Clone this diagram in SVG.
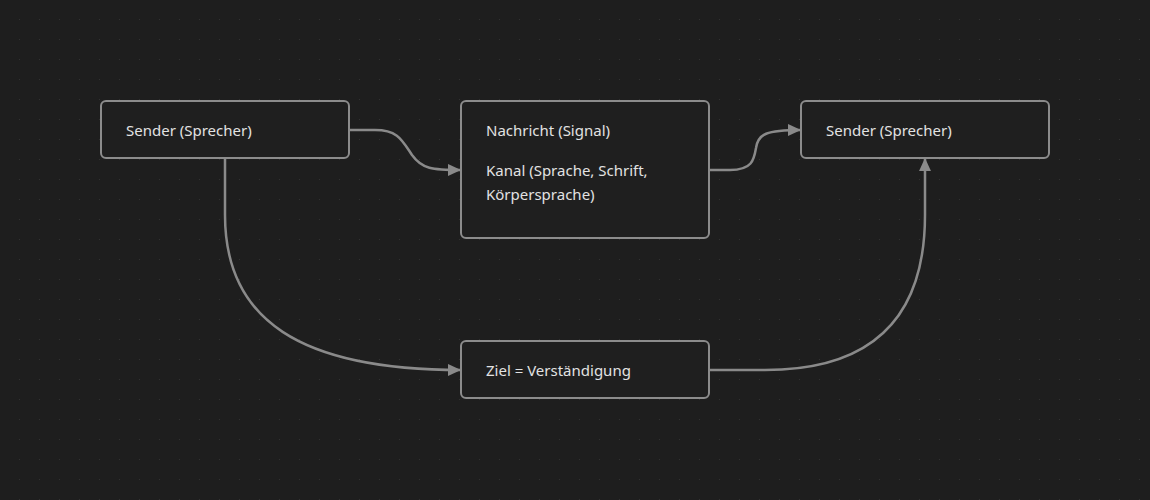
<svg xmlns="http://www.w3.org/2000/svg" width="1150" height="500" viewBox="0 0 1150 500">
<defs>
<pattern id="dots" x="0" y="0" width="20" height="20" patternUnits="userSpaceOnUse">
<rect x="19" y="19" width="1.5" height="1.5" fill="#333333"/>
</pattern>
<marker id="arr" viewBox="0 0 12 12" refX="12" refY="6" markerWidth="13" markerHeight="13" markerUnits="userSpaceOnUse" orient="auto">
<path d="M0,0.5 L12,6 L0,11.5 Z" fill="#8a8a8a"/>
</marker>
<style>
.node rect{fill:#1f1f1f;stroke:#8c8c8c;stroke-width:2}
.node text{fill:#e2e2e2;font-family:"Noto Sans","Open Sans",sans-serif;font-size:15px}
.edges path{fill:none;stroke:#8a8a8a;stroke-width:2.5;marker-end:url(#arr)}
</style>
</defs>
<rect width="1150" height="500" fill="#1e1e1e"/>
<rect width="1150" height="500" fill="url(#dots)"/>
<g class="edges">
<path d="M349,130 L375,130 C398,130 402,140 412,155 C422,169 432,170 461,170"/>
<path d="M709,170 L730,170 C752,170 754,160 756,148 C758,134 766,130 801,130"/>
<path d="M225,158 L225,215 C225,320 300,370 461,370"/>
<path d="M709,370 L765,370 C880,370 925,310 925,215 L925,158"/>
</g>
<g id="n1" class="node"><rect x="101" y="101" width="248" height="57" rx="5"/><text x="126" y="136">Sender (Sprecher)</text></g>
<g id="n2" class="node"><rect x="461" y="101" width="248" height="137" rx="5"/><text x="486" y="136">Nachricht (Signal)</text><text x="486" y="176">Kanal (Sprache, Schrift,</text><text x="486" y="200">Körpersprache)</text></g>
<g id="n3" class="node"><rect x="801" y="101" width="248" height="57" rx="5"/><text x="826" y="136">Sender (Sprecher)</text></g>
<g id="n4" class="node"><rect x="461" y="341" width="248" height="57" rx="5"/><text x="486" y="376">Ziel = Verständigung</text></g>
</svg>
